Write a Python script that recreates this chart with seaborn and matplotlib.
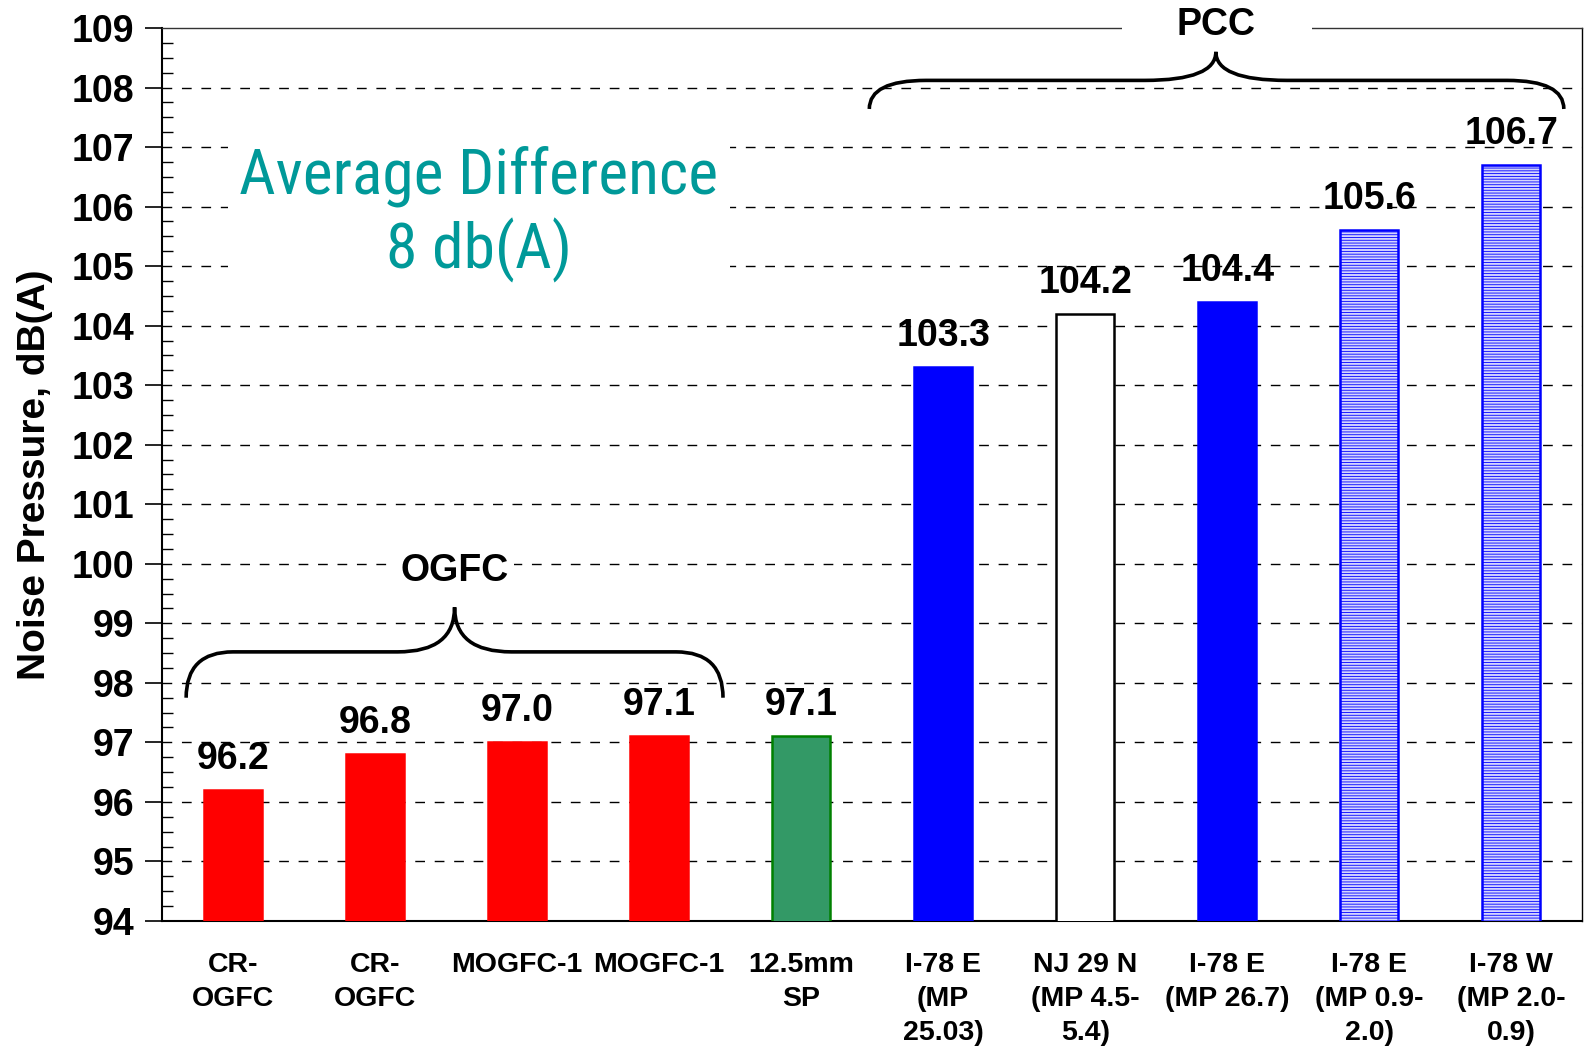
import matplotlib
matplotlib.use("Agg")
import matplotlib.pyplot as plt
import seaborn as sns
import pandas as pd
import numpy as np
from matplotlib.path import Path
from matplotlib.patches import PathPatch, Rectangle
from matplotlib.ticker import MultipleLocator
from matplotlib import font_manager as fm

# ---- data ----
keys = ["c0", "c1", "c2", "c3", "c4", "c5", "c6", "c7", "c8", "c9"]
tick_labels = ["CR-\nOGFC", "CR-\nOGFC", "MOGFC-1", "MOGFC-1", "12.5mm\nSP",
               "I-78 E\n(MP\n25.03)", "NJ 29 N\n(MP 4.5-\n5.4)", "I-78 E\n(MP 26.7)",
               "I-78 E\n(MP 0.9-\n2.0)", "I-78 W\n(MP 2.0-\n0.9)"]
values = [96.2, 96.8, 97.0, 97.1, 97.1, 103.3, 104.2, 104.4, 105.6, 106.7]
value_text = ["96.2", "96.8", "97.0", "97.1", "97.1", "103.3", "104.2", "104.4", "105.6", "106.7"]
face_colors = ["#ff0000", "#ff0000", "#ff0000", "#ff0000", "#339966",
               "#0000ff", "#ffffff", "#0000ff", "#d4d4ff", "#d4d4ff"]
edge_colors = ["#ff0000", "#ff0000", "#ff0000", "#ff0000", "#008000",
               "#0000ff", "#000000", "#0000ff", "#0000ff", "#0000ff"]
hatches = [None, None, None, None, None, None, None, None, "------", "------"]

df = pd.DataFrame({"key": keys, "value": values})

sns.set_theme(style="white")
plt.rcParams["font.family"] = ["Liberation Sans", "DejaVu Sans"]
plt.rcParams["hatch.linewidth"] = 0.6
for k in ["text.color", "axes.labelcolor", "xtick.color", "ytick.color"]:
    plt.rcParams[k] = "black"

# pick a condensed font for the annotation if one is installed
def pick_condensed():
    prefs = ["LiberationSansNarrow-Regular", "RobotoCondensed-Regular", "Roboto-Condensed",
             "NotoSans-Condensed.", "OpenSans-CondensedRegular", "OpenSans_Condensed-Regular",
             "DejaVuSansCondensed.", "DejaVuSansCondensed-"]
    files = [f.fname for f in fm.fontManager.ttflist]
    for p in prefs:
        for f in files:
            if p.lower() in f.lower() and "bold" not in f.lower() and "italic" not in f.lower():
                return fm.FontProperties(fname=f)
    return fm.FontProperties(family="Roboto")

cond_fp = pick_condensed()

fig = plt.figure(figsize=(15.85, 10.53), dpi=100)
ax = fig.add_axes([0.1022, 0.1254, 0.8961, 0.848])

sns.barplot(data=df, x="key", y="value", hue="key", palette=face_colors,
            legend=False, width=0.41, ax=ax, saturation=1, zorder=3)

for p, fc, ec, h in zip(ax.patches, face_colors, edge_colors, hatches):
    p.set_facecolor(fc)
    p.set_edgecolor(ec)
    p.set_linewidth(1.8)
    if h:
        p.set_hatch(h)

ax.set_ylim(94, 109)
ax.set_xlim(-0.5, 9.5)
ax.yaxis.set_major_locator(MultipleLocator(1))
ax.yaxis.set_minor_locator(MultipleLocator(0.25))
ax.tick_params(axis="y", which="major", direction="out", length=12, width=1.2,
               labelsize=27, pad=8, left=True, color="black", labelcolor="black")
ax.tick_params(axis="y", which="minor", direction="in", length=8, width=1.0,
               left=True, color="black")
for t in ax.get_yticklabels():
    t.set_fontweight("bold")

ax.set_xticks(range(len(keys)))
ax.set_xticklabels(tick_labels, fontsize=20.5, fontweight="bold", linespacing=1.4)
ax.tick_params(axis="x", length=0, pad=22, labelcolor="black")
ax.set_xlabel("")
ax.set_ylabel("Noise Pressure, dB(A)", fontsize=28, fontweight="bold", labelpad=13,
              color="black")

ax.grid(False)
for yv in range(95, 109):
    ax.axhline(yv, color="black", linewidth=1.0, linestyle=(0, (7, 7)), zorder=1)

for side in ["left", "bottom", "right", "top"]:
    ax.spines[side].set_visible(True)
    ax.spines[side].set_color("black")
ax.spines["left"].set_linewidth(1.5)
ax.spines["bottom"].set_linewidth(1.5)
ax.spines["right"].set_linewidth(1.0)
ax.spines["top"].set_linewidth(1.0)
ax.spines["top"].set_color("#333333")

# value labels
for i, (v, s) in enumerate(zip(values, value_text)):
    ax.annotate(s, xy=(i, v), xytext=(0, 9.5), textcoords="offset points",
                ha="center", va="bottom", fontsize=27, fontweight="bold",
                color="black", zorder=6)

# braces
def brace(ax, x0, x1, xm, y_end, y_h, y_peak, dxe, dxm):
    verts = [
        (x0, y_end), (x0, y_h), (x0 + dxe, y_h),
        (xm - dxm, y_h),
        (xm, y_h), (xm, y_peak),
        (xm, y_h), (xm + dxm, y_h),
        (x1 - dxe, y_h),
        (x1, y_h), (x1, y_end),
    ]
    codes = [Path.MOVETO, Path.CURVE3, Path.CURVE3,
             Path.LINETO,
             Path.CURVE3, Path.CURVE3,
             Path.CURVE3, Path.CURVE3,
             Path.LINETO,
             Path.CURVE3, Path.CURVE3]
    ax.add_patch(PathPatch(Path(verts, codes), facecolor="none", edgecolor="black",
                           linewidth=2.6, zorder=5, clip_on=False))

brace(ax, -0.33, 3.45, 1.56, 97.75, 98.52, 99.27, 0.33, 0.4)
brace(ax, 4.48, 9.37, 6.92, 107.64, 108.12, 108.6, 0.4, 0.5)

ax.text(1.56, 99.88, "OGFC", ha="center", va="center", fontsize=27, fontweight="bold",
        zorder=6, bbox=dict(facecolor="white", edgecolor="none", pad=4))
ax.add_patch(Rectangle((6.26, 108.85), 1.34, 0.5, facecolor="white", edgecolor="none",
                       zorder=4, clip_on=False))
ax.text(6.92, 109.05, "PCC", ha="center", va="center", fontsize=27, fontweight="bold",
        zorder=6)

# annotation text, sized so that its width matches the reference
fs = 47.0
cond_fp.set_size(fs)
probe = fig.text(0, 0, "Average Difference", fontproperties=cond_fp)
fig.canvas.draw()
w = probe.get_window_extent().width
probe.remove()
target_w = 478.0
if w > target_w:
    fs = fs * target_w / w
cond_fp.set_size(fs)
ls = 76.0 / (fs * 100 / 72)
ax.text(1.73, 105.87, "Average Difference\n8 db(A)", ha="center", va="center",
        fontproperties=cond_fp, color="#009999", linespacing=ls, zorder=6,
        bbox=dict(facecolor="white", edgecolor="none", pad=8))

fig.savefig("out.png", dpi=100)
